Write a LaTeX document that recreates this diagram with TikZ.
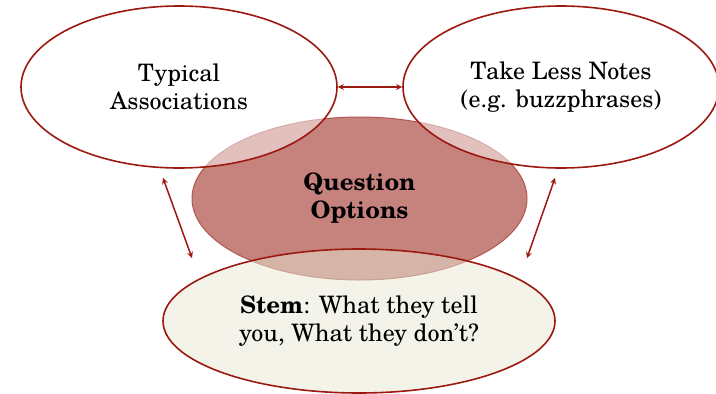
\documentclass[tikz,border=0pt]{standalone}
\usepackage{fontspec}
\setmainfont{TeX Gyre Schola}
\usetikzlibrary{shapes.geometric,arrows.meta}
\definecolor{dred}{RGB}{155,25,15}
\definecolor{qofill}{RGB}{198,130,125}
\definecolor{qodraw}{RGB}{178,85,80}
\definecolor{stemfill}{RGB}{233,231,211}
\begin{document}
\begin{tikzpicture}[x=1pt,y=-1pt,
  lbl/.style={font=\fontsize{24}{28}\selectfont, align=center, text=black, text opacity=1},
  bubble/.style={ellipse, draw=dred, line width=1.6pt, inner sep=0pt, fill opacity=0.5, draw opacity=1, lbl},
  qobubble/.style={ellipse, draw=qodraw, fill=qofill, line width=1pt, inner sep=0pt, lbl},
  arr/.style={draw=dred, line width=1.5pt, arrows={Stealth[length=6pt,width=6pt]-Stealth[length=6pt,width=6pt]}}]
\useasboundingbox (0,0) rectangle (716,394);
\node[qobubble, minimum width=335pt, minimum height=163pt] (qo) at (359.5,198.5) {\bfseries Question\\\bfseries Options};
\node[bubble, fill=white, minimum width=316pt, minimum height=162pt] (ta) at (179,87) {Typical\\Associations};
\node[bubble, fill=white, minimum width=316pt, minimum height=162pt] (tl) at (561,87) {Take Less Notes\\(e.g. buzzphrases)};
\node[bubble, fill=stemfill, minimum width=392pt, minimum height=144pt] (stem) at (359,321) {\textbf{Stem}: What they tell\\you, What they don't?};
\coordinate (l1) at (163,178);
\coordinate (l2) at (192,258);
\coordinate (r1) at (555,178);
\coordinate (r2) at (527,258);
\draw[arr] (ta.east) -- (tl.west);
\draw[arr] (l1) -- (l2);
\draw[arr] (r1) -- (r2);
\end{tikzpicture}
\end{document}
